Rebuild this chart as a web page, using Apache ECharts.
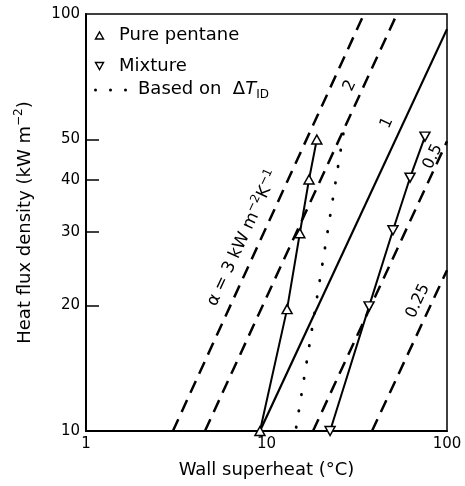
<!DOCTYPE html>
<html><head><meta charset="utf-8">
<script src="https://cdn.jsdelivr.net/npm/echarts@6/dist/echarts.min.js"></script>
<style>html,body{margin:0;padding:0;background:#fff}#c{width:465px;height:486px}</style>
</head><body><div id="c"></div>
<script>
// ---- data (x: wall superheat °C, y: heat flux kW/m2) ----
const xTickLabels = [1, 10, 100];
const yTickLabels = [10, 20, 30, 40, 50, 100];
const yTickMarks = [20, 30, 40, 50];
const purePentane = [[9.2, 10], [13.0, 19.6], [15.3, 29.8], [17.2, 40.1], [19.0, 50]];
const mixture = [[22.5, 10], [37.0, 19.9], [50.2, 30.3], [62.4, 40.5], [75.5, 50.8]];
const basedOnDTID = [[14.6, 10.2], [26.9, 53]];
const alpha3 = [[3.03, 10], [34.7, 100]];
const alpha2 = [[4.56, 10], [52.8, 100]];
const alpha1 = [[9.2, 10], [100, 92]];
const alpha05 = [[18.1, 10], [100, 49.5]];
const alpha025 = [[38.4, 10], [100, 24.3]];
const alphaLabels = ['{a|α = 3 kW m}{s|−2}{a|K}{s|−1}', '2', '1', '0.5', '0.25'];

// ---- layout / style ----
const FONT = 'DejaVu Sans';
const labelAnchors = [[7.41, 29.0], [29.0, 67.3], [46.5, 54.8], [83.6, 45.5], [69.0, 20.5]];
const labelSizes = [17, 16, 16, 16, 16];
const ROT = 65 * Math.PI / 180;

const chart = echarts.init(document.getElementById('c'), null, {renderer: 'canvas'});
const dashed = {color: '#000', width: 2.5, type: [13, 8]};
function refLine(name, data, style) {
  return {name, type: 'line', data, symbol: 'none', lineStyle: style, silent: true, z: 2};
}
const option = {
  animation: false,
  backgroundColor: '#fff',
  grid: {left: 86, right: 18, top: 14, bottom: 55, show: true, borderColor: '#000', borderWidth: 1.5, containLabel: false},
  xAxis: {
    type: 'log', logBase: 10, min: 1, max: 100,
    name: 'Wall superheat (°C)', nameLocation: 'middle', nameGap: 30,
    nameTextStyle: {fontFamily: FONT, fontSize: 18, color: '#000'},
    axisLine: {onZero: false, lineStyle: {color: '#000', width: 2}},
    axisTick: {show: false},
    splitLine: {show: false},
    axisLabel: {customValues: xTickLabels, fontFamily: FONT, fontSize: 15, color: '#000', margin: 6,
      formatter: v => String(Math.round(v))}
  },
  yAxis: {
    type: 'log', logBase: 10, min: 10, max: 100,
    name: 'Heat flux density (kW m{s|−2})', nameLocation: 'middle', nameGap: 49, nameRotate: 90,
    nameTextStyle: {fontFamily: FONT, fontSize: 18, color: '#000', lineHeight: 24,
      rich: {s: {fontFamily: FONT, fontSize: 12, lineHeight: 14, verticalAlign: 'top', color: '#000'}}},
    axisLine: {show: true, lineStyle: {color: '#000', width: 2}},
    axisTick: {show: true, inside: true, length: 13, customValues: yTickMarks, lineStyle: {color: '#000', width: 1.5}},
    splitLine: {show: false},
    minorTick: {show: false},
    axisLabel: {customValues: yTickLabels, fontFamily: FONT, fontSize: 15, color: '#000', margin: 6,
      formatter: v => String(Math.round(v))}
  },
  series: [
    refLine('α3', alpha3, dashed),
    refLine('α2', alpha2, dashed),
    refLine('α1', alpha1, {color: '#000', width: 2.2, type: 'solid'}),
    refLine('α0.5', alpha05, dashed),
    refLine('α0.25', alpha025, dashed),
    refLine('Based on ΔT_ID', basedOnDTID, {color: '#000', width: 2.8, type: [0.5, 16], cap: 'round'}),
    {name: 'Pure pentane', type: 'line', data: purePentane, symbol: 'triangle', symbolSize: [10, 9],
      showAllSymbol: true, lineStyle: {color: '#000', width: 2},
      itemStyle: {color: '#fff', borderColor: '#000', borderWidth: 1.5}, z: 5},
    {name: 'Mixture', type: 'line', data: mixture, symbol: 'triangle', symbolRotate: 180, symbolSize: [10, 9],
      showAllSymbol: true, lineStyle: {color: '#000', width: 2},
      itemStyle: {color: '#fff', borderColor: '#000', borderWidth: 1.5}, z: 5}
  ]
};
chart.setOption(option);

// ---- legend & line annotations ----
const graphics = [
  {type: 'polygon', shape: {points: [[95.5, 39], [103.5, 39], [99.5, 32]]}, style: {fill: '#fff', stroke: '#000', lineWidth: 1.4}},
  {type: 'text', x: 119, y: 35, style: {text: 'Pure pentane', fontFamily: FONT, fontSize: 18, fill: '#000', verticalAlign: 'middle'}},
  {type: 'polygon', shape: {points: [[95.5, 62.5], [103.5, 62.5], [99.5, 69.5]]}, style: {fill: '#fff', stroke: '#000', lineWidth: 1.4}},
  {type: 'text', x: 119, y: 66, style: {text: 'Mixture', fontFamily: FONT, fontSize: 18, fill: '#000', verticalAlign: 'middle'}},
  {type: 'circle', shape: {cx: 95.5, cy: 90, r: 1.5}, style: {fill: '#000'}},
  {type: 'circle', shape: {cx: 110.5, cy: 90, r: 1.5}, style: {fill: '#000'}},
  {type: 'circle', shape: {cx: 125.5, cy: 90, r: 1.5}, style: {fill: '#000'}},
  {type: 'text', x: 138, y: 89, style: {text: '{n|Based on  Δ}{i|T}{b|ID}', fontFamily: FONT, fontSize: 18, fill: '#000', verticalAlign: 'middle',
    rich: {n: {fontFamily: FONT, fontSize: 18, lineHeight: 24}, i: {fontFamily: FONT, fontSize: 18, fontStyle: 'italic', lineHeight: 24},
      b: {fontFamily: FONT, fontSize: 12, lineHeight: 12, verticalAlign: 'bottom'}}}}
];
alphaLabels.forEach((t, i) => {
  const p = chart.convertToPixel({gridIndex: 0}, labelAnchors[i]);
  graphics.push({type: 'text', x: p[0], y: p[1], rotation: ROT, z: 10,
    style: {text: t, fontFamily: FONT, fontSize: labelSizes[i], fill: '#000', align: 'center', verticalAlign: 'middle',
      rich: {a: {fontFamily: FONT, fontSize: labelSizes[i], lineHeight: 22}, s: {fontFamily: FONT, fontSize: 12, lineHeight: 12, verticalAlign: 'top'}}}});
});
chart.setOption({graphic: graphics});
</script></body></html>
